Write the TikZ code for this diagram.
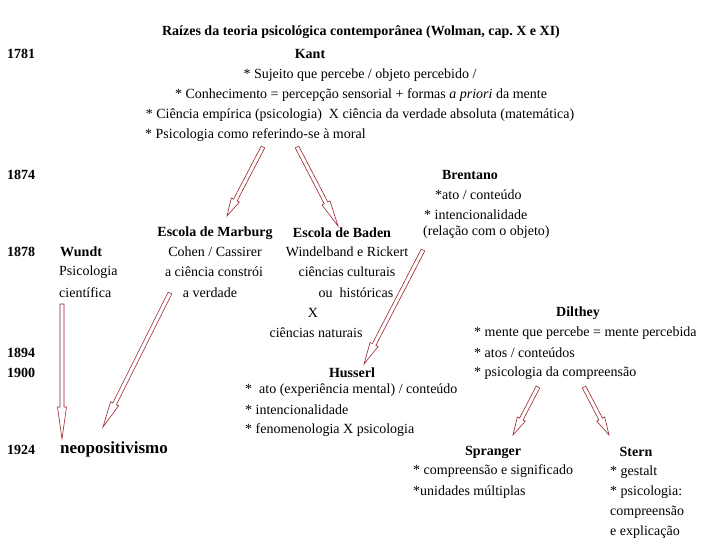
\documentclass[tikz,border=0pt]{standalone}
\usepackage{fontspec}
\setmainfont{Liberation Serif}
\usetikzlibrary{positioning}
\usetikzlibrary{calc}
\definecolor{arrowred}{RGB}{155,35,45}
\tikzset{
  txt/.style = {anchor=west, inner sep=0pt, font=\fontsize{14}{16}\selectfont},
  ctxt/.style = {txt, anchor=center},
  hd/.style = {ctxt, font=\fontsize{14}{16}\selectfont\bfseries},
  year/.style = {txt, font=\fontsize{14}{16}\selectfont\bfseries},
  bkarrow/.style = {draw=arrowred, fill=white, line width=0.6pt, line join=miter},
}
% hollow block arrow: \bkarrow[head length]{from}{to}
\newcommand{\bkarrow}[3][20pt]{%
  \path ($(#3)!#1!(#2)$) coordinate (hb);
  \draw[bkarrow] ($(#2)!2pt!90:(#3)$) -- ($(hb)!2pt!90:(#3)$) -- ($(hb)!4.5pt!90:(#3)$)
    -- (#3) -- ($(hb)!4.5pt!-90:(#3)$) -- ($(hb)!2pt!-90:(#3)$) -- ($(#2)!2pt!-90:(#3)$) -- cycle;
}
\frenchspacing

\begin{document}
\begin{tikzpicture}[x=1pt,y=-1pt]
\useasboundingbox (0,0) rectangle (720,540);
% title and Kant
\node at(361,32) (title) [hd] {Raízes da teoria psicológica contemporânea (Wolman, cap. X e XI)};
\node at(7,54) (y1781) [year] {1781};
\node at(310,54) (kant) [hd] {Kant};
\node at(360,75) (kant1) [ctxt] {* Sujeito que percebe / objeto percebido /};
\node at(361,95) (kant2) [ctxt] {* Conhecimento = percepção sensorial + formas \textit{a priori} da mente};
\node at(360,115) (kant3) [ctxt] {* Ciência empírica (psicologia)~~X ciência da verdade absoluta (matemática)};
\node at(145,135) (kant4) [txt] {* Psicologia como referindo-se à moral};
% Brentano
\node at(7,175) (y1874) [year] {1874};
\node at(470,175) (brentano) [hd] {Brentano};
\node at(435,195) (bren1) [txt] {*ato / conteúdo};
\node at(424,215) (bren2) [txt] {* intencionalidade};
\node at(423,232) (bren3) [txt] {(relação com o objeto)};
% schools
\node at(215,233) (marburg) [hd] {Escola de Marburg};
\node at(342,233) (baden) [hd] {Escola de Baden};
\node at(7,252) (y1878) [year] {1878};
\node at(60,252) (wundt) [year] {Wundt};
\node at(59,272) (wundt1) [txt] {Psicologia};
\node at(59,293) (wundt2) [txt] {científica};
\node at(215,252) (marb1) [ctxt] {Cohen / Cassirer};
\node at(214,272) (marb2) [ctxt] {a ciência constrói};
\node at(210,293) (marb3) [ctxt] {a verdade};
\node at(347,252) (baden1) [ctxt] {Windelband e Rickert};
\node at(347,272) (baden2) [ctxt] {ciências culturais};
\node at(356,293) (baden3) [ctxt] {ou~~históricas};
\node at(313,313) (baden4) [ctxt] {X};
\node at(316,333) (baden5) [ctxt] {ciências naturais};
% Dilthey
\node at(578,313) (dilthey) [hd] {Dilthey};
\node at(474,333) (dil1) [txt] {* mente que percebe = mente percebida};
\node at(474,353) (dil2) [txt] {* atos / conteúdos};
\node at(474,373) (dil3) [txt] {* psicologia da compreensão};
% Husserl
\node at(7,353) (y1894) [year] {1894};
\node at(7,373) (y1900) [year] {1900};
\node at(352,373) (husserl) [hd] {Husserl};
\node at(245,390) (hus1) [txt] {*~~ato (experiência mental) / conteúdo};
\node at(245,410) (hus2) [txt] {* intencionalidade};
\node at(245,430) (hus3) [txt] {* fenomenologia X psicologia};
% 1924
\node at(7,450) (y1924) [year] {1924};
\node at(60,449) (neo) [txt, font=\fontsize{17}{19}\selectfont\bfseries] {neopositivismo};
\node at(493,452) (spranger) [hd] {Spranger};
\node at(413,471) (spr1) [txt] {* compreensão e significado};
\node at(413,492) (spr2) [txt] {*unidades múltiplas};
\node at(636,452) (stern) [hd] {Stern};
\node at(610,472) (st1) [txt] {* gestalt};
\node at(610,492) (st2) [txt] {* psicologia:};
\node at(610,512) (st3) [txt] {compreensão};
\node at(610,532) (st4) [txt] {e explicação};
% arrow ends
\coordinate (kantA) at (263,147);
\coordinate (kantB) at (297,147);
\coordinate (marbT) at (227,216);
\coordinate (badenT) at (338,226);
\coordinate (wundtA) at (62,304);
\coordinate (neoT) at (62,439);
\coordinate (marbA) at (170,293);
\coordinate (neoU) at (103,427);
\coordinate (brenA) at (423,250);
\coordinate (husT) at (364,364);
\coordinate (dilA) at (538,387);
\coordinate (sprT) at (513,435);
\coordinate (dilB) at (584,387);
\coordinate (sternT) at (609,435);
\bkarrow[18pt]{kantA}{marbT}
\bkarrow[26pt]{kantB}{badenT}
\bkarrow[32pt]{wundtA}{neoT}
\bkarrow[26pt]{marbA}{neoU}
\bkarrow[22pt]{brenA}{husT}
\bkarrow[18pt]{dilA}{sprT}
\bkarrow[18pt]{dilB}{sternT}
\end{tikzpicture}
\end{document}
